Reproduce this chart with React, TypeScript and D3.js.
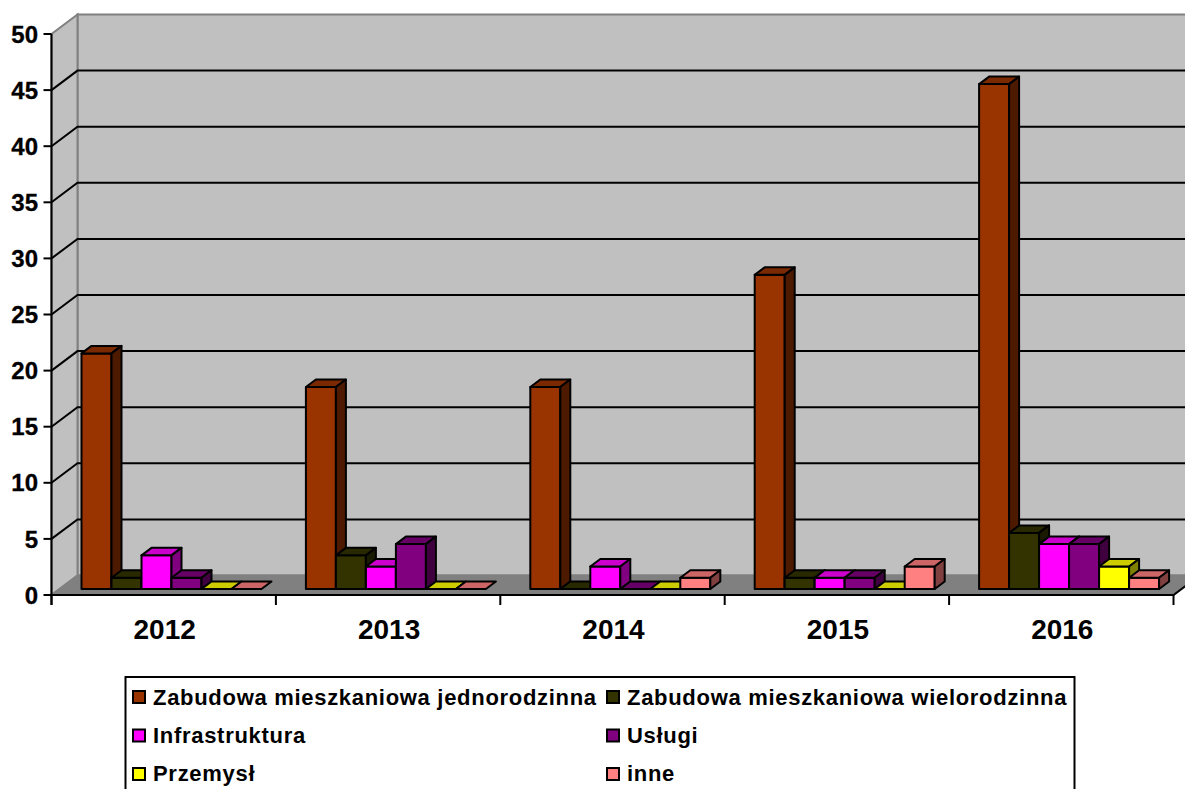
import React from "react";
import * as d3 from "d3";

const years = ["2012", "2013", "2014", "2015", "2016"];
const seriesNames = [
  "Zabudowa mieszkaniowa jednorodzinna",
  "Zabudowa mieszkaniowa wielorodzinna",
  "Infrastruktura",
  "Usługi",
  "Przemysł",
  "inne",
];
const jednorodzinna = [21, 18, 18, 28, 45];
const wielorodzinna = [1, 3, 0, 1, 5];
const infrastruktura = [3, 2, 2, 1, 4];
const uslugi = [1, 4, 0, 1, 4];
const przemysl = [0, 0, 0, 0, 2];
const inne = [0, 0, 1, 2, 1];
const allSeries = [jednorodzinna, wielorodzinna, infrastruktura, uslugi, przemysl, inne];
const colors = ["#993300", "#333300", "#FF00FF", "#800080", "#FFFF00", "#FF8080"];
const ticks = d3.range(0, 51, 5);

const F = "'Liberation Sans', Arial, sans-serif";
const x0 = 51.5, x1 = 1173.5;
const dx = 26, dy = -19.5;
const y = d3.scaleLinear().domain([0, 50]).range([595, 34]);
const xCat = d3.scaleBand<string>().domain(years).range([x0, x1]);
const barW = 30, bdx = 10, bdy = -7.5, baseShift = -6;
const inner = d3.scaleBand<number>().domain(d3.range(6)).range([30, 210]);
const poly = (p: number[][]) => p.map((q) => q.join(",")).join(" ");
const shade = (c: string, k: number) => {
  const r = d3.rgb(c);
  return d3.rgb(r.r * k, r.g * k, r.b * k).formatHex();
};

export default function App() {
  return (
    <svg width={1185} height={789} style={{ position: "absolute", left: 0, top: 0, background: "#fff" }} fontFamily={F}>
      {/* walls */}
      <polygon points={poly([[x0 + dx, y(50) + dy], [1200, y(50) + dy], [1200, y(0) + dy], [x0 + dx, y(0) + dy]])} fill="#C0C0C0" stroke="#808080" strokeWidth={2} />
      <polygon points={poly([[x0, y(50)], [x0 + dx, y(50) + dy], [x0 + dx, y(0) + dy], [x0, y(0)]])} fill="#C0C0C0" stroke="#808080" strokeWidth={2} />
      <polygon points={poly([[x0, y(0)], [x0 + dx, y(0) + dy], [1200, y(0) + dy], [x1, y(0)]])} fill="#808080" stroke="#808080" strokeWidth={2} />
      {/* gridlines */}
      {ticks.filter((t) => t > 0 && t < 50).map((t) => (
        <polyline key={t} points={poly([[x0, y(t)], [x0 + dx, y(t) + dy], [1200, y(t) + dy]])} fill="none" stroke="#000" strokeWidth={2} />
      ))}
      {/* axes */}
      <line x1={x0} x2={x0} y1={y(50)} y2={y(0) + 10} stroke="#000" strokeWidth={2} />
      <line x1={x0} x2={x1} y1={y(0)} y2={y(0)} stroke="#000" strokeWidth={2} />
      <line x1={x1} x2={x1 + 12} y1={y(0)} y2={y(0) - 9} stroke="#000" strokeWidth={2} />
      {ticks.map((t) => (
        <g key={t}>
          <line x1={x0 - 8} x2={x0} y1={y(t)} y2={y(t)} stroke="#000" strokeWidth={2} />
          <text x={38} y={y(t)} dy="0.36em" textAnchor="end" fontSize={24} fontWeight="bold" fill="#000" stroke="#000" strokeWidth={0.3}>{t}</text>
        </g>
      ))}
      {[...years.map((c) => xCat(c)!), x1].map((xv, i) => (
        <line key={i} x1={xv} x2={xv} y1={y(0)} y2={y(0) + 10} stroke="#000" strokeWidth={2} />
      ))}
      {years.map((c) => (
        <text key={c} x={xCat(c)! + xCat.bandwidth() / 2 + 1} y={639} textAnchor="middle" fontSize={28} fontWeight="bold" fill="#000">{c}</text>
      ))}
      {/* bars */}
      {years.map((c, yi) =>
        allSeries.map((vals, si) => {
          const v = vals[yi];
          const l = xCat(c)! + inner(si)!;
          const r = l + barW;
          const b = y(0) + baseShift;
          const t = b - (y(0) - y(v));
          const col = colors[si];
          return (
            <g key={c + si} stroke="#000" strokeWidth={2} strokeLinejoin="round">
              {v > 0 && <rect x={l} y={t} width={barW} height={b - t} fill={col} />}
              <polygon points={poly([[l, t], [l + bdx, t + bdy], [r + bdx, t + bdy], [r, t]])} fill={shade(col, 0.8)} />
              {v > 0 && <polygon points={poly([[r, t], [r + bdx, t + bdy], [r + bdx, b + bdy], [r, b]])} fill={shade(col, 0.5)} />}
            </g>
          );
        })
      )}
      {/* legend */}
      <rect x={125.5} y={677} width={949} height={130} fill="#fff" stroke="#000" strokeWidth={2} />
      {seriesNames.map((n, i) => {
        const cx = i % 2 === 0 ? 133 : 607;
        const row = Math.floor(i / 2);
        return (
          <g key={n}>
            <rect x={cx} y={691 + row * 38.5} width={12} height={12} fill={colors[i]} stroke="#000" strokeWidth={2} />
            <text x={cx + 20} y={705 + row * 38} fontSize={22} letterSpacing={0.7} fontWeight="bold" fill="#000">{n}</text>
          </g>
        );
      })}
    </svg>
  );
}
